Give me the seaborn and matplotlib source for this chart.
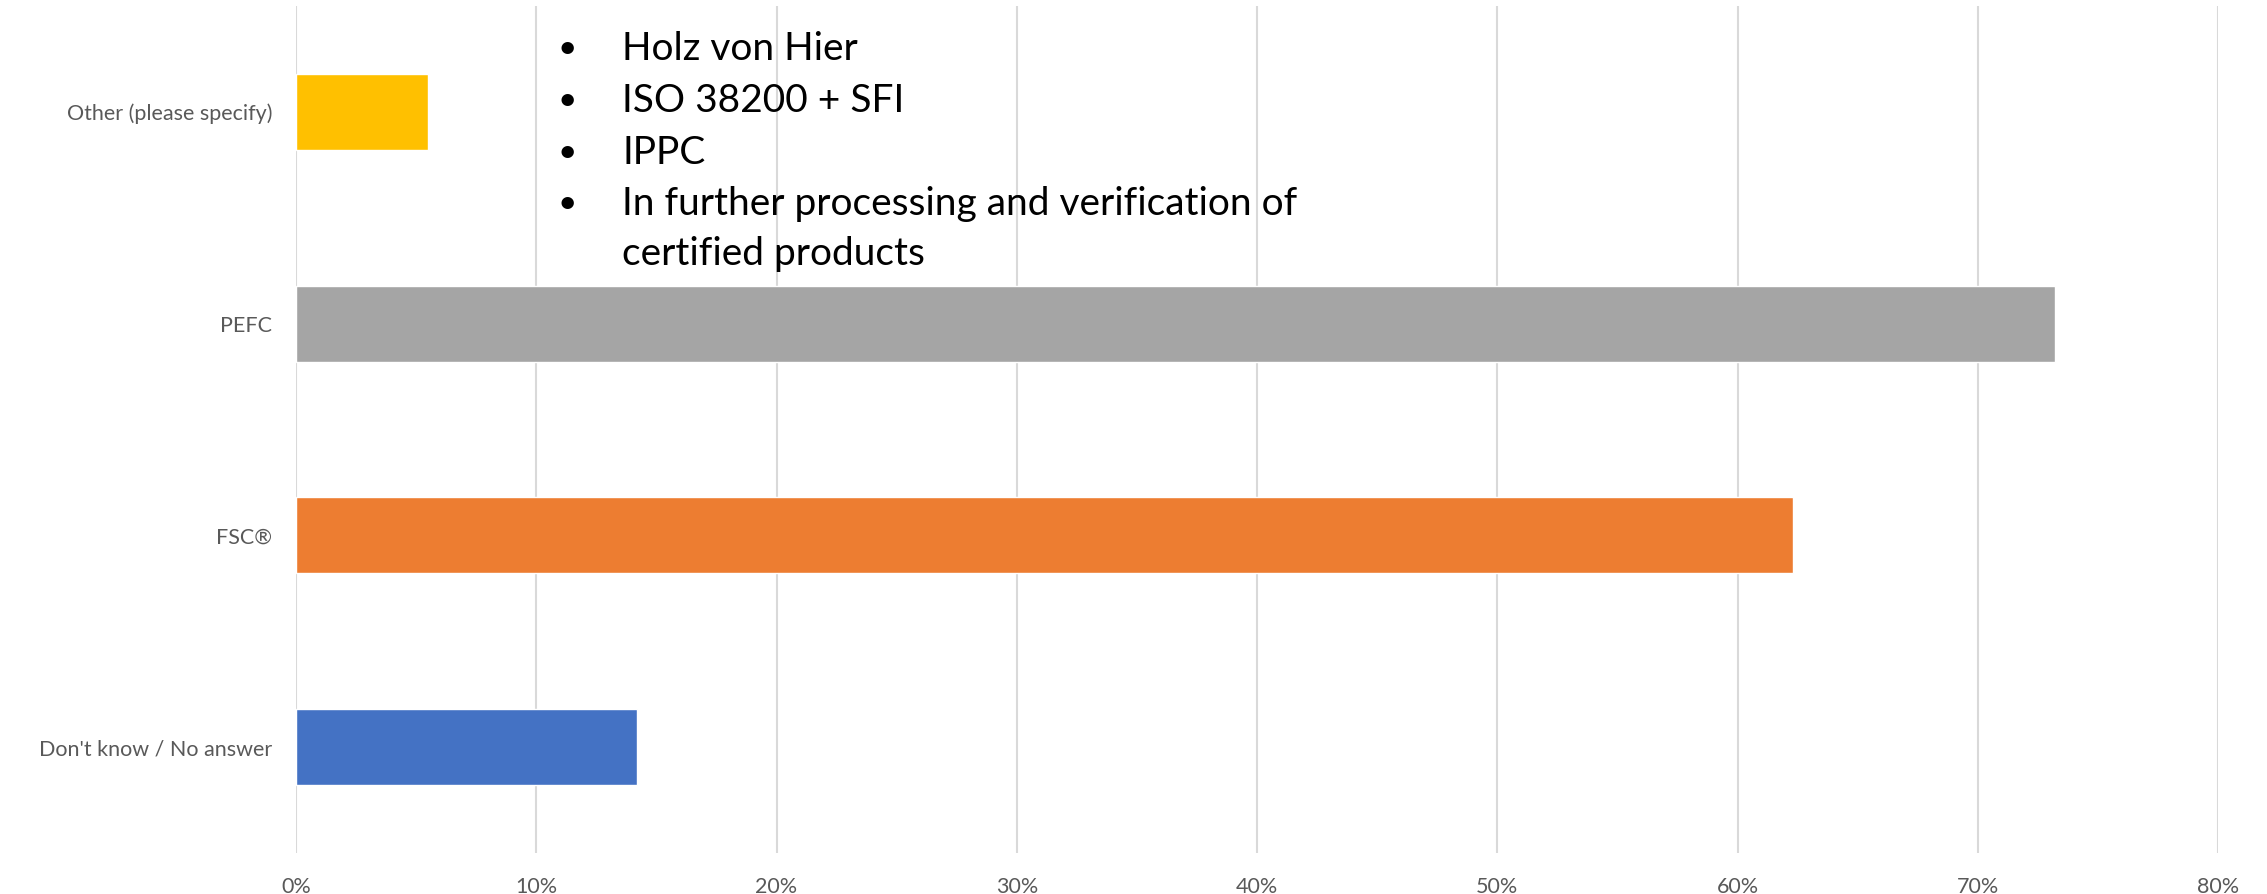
import matplotlib
matplotlib.use("Agg")
import matplotlib.pyplot as plt
import seaborn as sns
from matplotlib.ticker import FuncFormatter

# Data (top to bottom as in the chart)
categories = ["Other (please specify)", "PEFC", "FSC®", "Don't know / No answer"]
shares = [5.5, 73.2, 62.3, 14.2]
bar_colors = ["#FFC000", "#A5A5A5", "#ED7D31", "#4472C4"]
x_ticks = [0, 10, 20, 30, 40, 50, 60, 70, 80]
note_lines = ["Holz von Hier", "ISO 38200 + SFI", "IPPC",
              "In further processing and verification of"]
note_cont = "certified products"

W, H = 2267, 894
sns.set_theme(style="white")
plt.rcParams["font.family"] = ["Lato", "DejaVu Sans"]

fig = plt.figure(figsize=(W / 100, H / 100), dpi=100)
ax = fig.add_axes([296 / W, 1 - 853 / H, (2218 - 296) / W, (853 - 6) / H])

sns.barplot(x=shares, y=categories, hue=categories, palette=bar_colors,
            orient="h", width=0.36, saturation=1, legend=False, ax=ax)

ax.set_xlim(0, 80)
ax.set_ylim(3.5, -0.5)
ax.set_xticks(x_ticks)
ax.xaxis.set_major_formatter(FuncFormatter(lambda v, p: f"{v:.0f}%"))
ax.grid(axis="x", color="#D9D9D9", linewidth=1.5)
ax.set_axisbelow(True)
for s in ax.spines.values():
    s.set_visible(False)
ax.tick_params(axis="both", length=0, labelsize=15.5, colors="#595959")
ax.tick_params(axis="x", pad=17)
ax.tick_params(axis="y", pad=17)
ax.set_xlabel("")
ax.set_ylabel("")

# bullet list annotation
line_y = [49, 101, 153, 204]
for txt, yy in zip(note_lines, line_y):
    fig.text(567 / W, 1 - yy / H, "•", fontsize=24, color="black", va="center", ha="center")
    fig.text(622 / W, 1 - yy / H, txt, fontsize=28, color="black", va="center", ha="left")
fig.text(622 / W, 1 - 254 / H, note_cont, fontsize=28, color="black", va="center", ha="left")

fig.savefig("out.png", dpi=100)
